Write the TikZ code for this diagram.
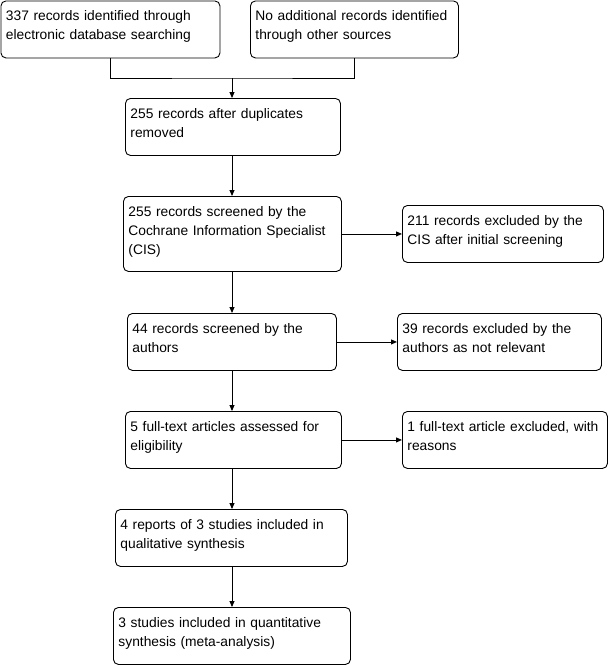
\documentclass[tikz,border=0pt]{standalone}
\usepackage{fontspec}
\setmainfont{Liberation Sans}
\usetikzlibrary{arrows.meta}

\tikzset{
  flowbox/.style={draw,line width=0.9pt,rounded corners=5pt,anchor=north west,align=left,
    inner xsep=5pt,inner ysep=0pt,text height=20pt,text depth=37pt,
    font=\fontsize{13.8}{19}\selectfont},
  flowarr/.style={line width=0.9pt,-{Triangle[length=6pt,width=5pt]}},
}

\begin{document}
\begin{tikzpicture}[x=1pt,y=-1pt]
\useasboundingbox (0,0) rectangle (608,665);
% identification
\node[flowbox,text width=209pt] (ident) at (0.5,0.5) {337 records identified through\\electronic database searching};
\node[flowbox,text width=198pt] (other) at (250,0.5) {No additional records identified\\through other sources};
\coordinate (join) at (232,78);
\draw[line width=0.9pt] (ident.south) |- (join) -| (other.south);
% screening
\node[flowbox,text width=205pt] (dupl) at (125,98) {255 records after duplicates\\removed};
\node[flowbox,text width=208pt,text depth=55pt] (cis) at (123,196) {255 records screened by the\\Cochrane Information Specialist\\(CIS)};
\node[flowbox,text width=191pt] (cisout) at (402,205) {211 records excluded by the\\CIS after initial screening};
\node[flowbox,text width=199pt] (auth) at (127,313) {44 records screened by the\\authors};
\node[flowbox,text width=194pt] (authout) at (397,313) {39 records excluded by the\\authors as not relevant};
% eligibility
\node[flowbox,text width=206pt] (full) at (125,411) {5 full-text articles assessed for\\eligibility};
\node[flowbox,text width=198pt,inner xsep=3.5pt] (fullout) at (402,411) {\hspace*{1.5pt}1 full-text article excluded, with\\\hspace*{1.5pt}reasons};
% included
\node[flowbox,text width=222pt] (qual) at (115,509) {4 reports of 3 studies included in\\qualitative synthesis};
\node[flowbox,text width=227pt] (quant) at (113,607) {3 studies included in quantitative\\synthesis (meta-analysis)};

\draw[flowarr] (join) -- (join |- dupl.north);
\draw[flowarr] (join |- dupl.south) -- (join |- cis.north);
\draw[flowarr] (join |- cis.south) -- (join |- auth.north);
\draw[flowarr] (join |- auth.south) -- (join |- full.north);
\draw[flowarr] (join |- full.south) -- (join |- qual.north);
\draw[flowarr] (join |- qual.south) -- (join |- quant.north);
\draw[flowarr] (cis.east) -- (cis.east -| cisout.west);
\draw[flowarr] (auth.east) -- (auth.east -| authout.west);
\draw[flowarr] (full.east) -- (full.east -| fullout.west);
\end{tikzpicture}
\end{document}
